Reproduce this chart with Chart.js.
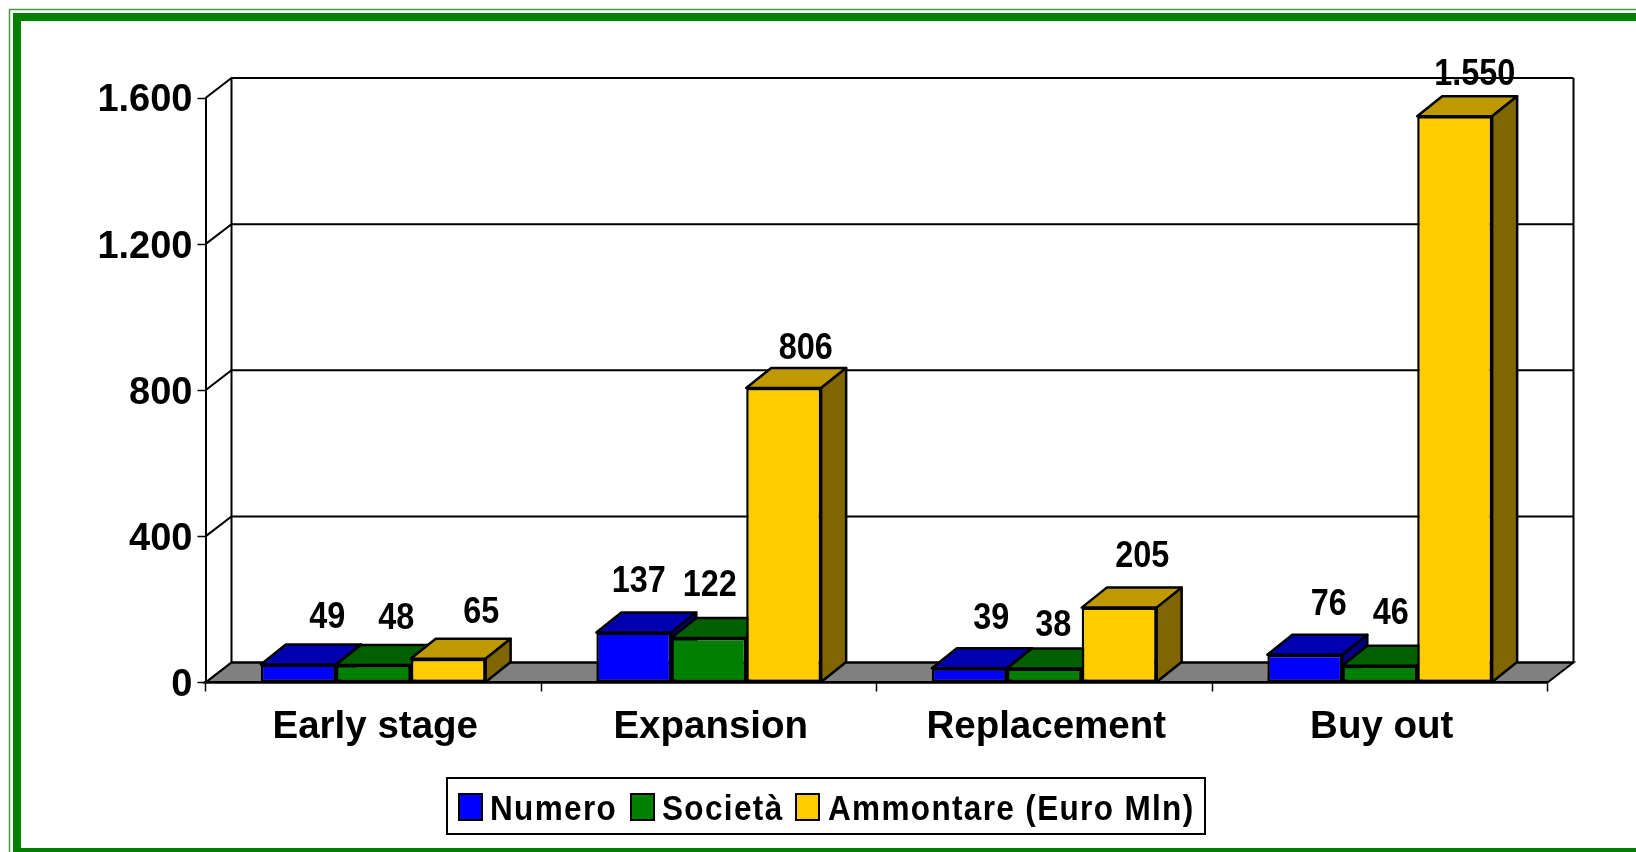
<!DOCTYPE html>
<html>
<head>
<meta charset="utf-8">
<style>
  html, body { margin: 0; padding: 0; background: #fff; overflow: hidden; }
  canvas { display: block; }
</style>
<script src="https://cdn.jsdelivr.net/npm/chart.js@4"></script>
</head>
<body>
<canvas id="myChart" width="1636" height="852"></canvas>
<script>
const categories = ['Early stage', 'Expansion', 'Replacement', 'Buy out'];
const numero = [49, 137, 39, 76];
const societa = [48, 122, 38, 46];
const ammontare = [65, 806, 205, 1550];
const seriesNames = ['Numero', 'Società', 'Ammontare (Euro Mln)'];

// front, top and side colour of each series
const frontColors = ['#0000ff', '#008000', '#ffcc00'];
const topColors = ['#0000b0', '#005f00', '#bf9900'];
const sideColors = ['#000080', '#004000', '#7f6600'];

// the value labels sit at hand placed spots in the original, offset from the bar top
const labelDx = [[29, 5, 22, 24], [23, 1, 9, 11], [33, 22, 23, 20]];
const labelDy = [[-47, -50, -49, -50], [-46, -52, -43, -52], [-46, -39, -51, -41]];

const depthX = 26;
const depthY = 20;
const barDepthX = 25;
const FONT = '"Liberation Sans", Arial, sans-serif';

function itNumber(v) {
    return String(v).replace(/\B(?=(\d{3})+$)/g, '.');
}

function poly(ctx, pts, fill) {
    ctx.beginPath();
    ctx.moveTo(pts[0][0], pts[0][1]);
    for (let i = 1; i < pts.length; i++) ctx.lineTo(pts[i][0], pts[i][1]);
    ctx.closePath();
    if (fill) {
        ctx.fillStyle = fill;
        ctx.fill();
    }
    ctx.stroke();
}

const frame = {
    id: 'frame',
    beforeDraw(chart) {
        const ctx = chart.ctx;
        ctx.save();
        ctx.strokeStyle = '#3f9f3f';
        ctx.lineWidth = 1.5;
        ctx.strokeRect(9.5, 9.5, 1700, 900);
        ctx.strokeStyle = '#008000';
        ctx.lineWidth = 8;
        ctx.strokeRect(17, 17, 1700, 835);
        ctx.restore();
    }
};

const walls = {
    id: 'walls',
    beforeDraw(chart) {
        const ctx = chart.ctx;
        const area = chart.chartArea;
        const y = chart.scales.y;
        ctx.save();
        ctx.strokeStyle = '#000';
        ctx.lineWidth = 2;
        poly(ctx, [
            [area.left, area.bottom],
            [area.left + depthX, area.bottom - depthY],
            [area.right + depthX, area.bottom - depthY],
            [area.right, area.bottom]
        ], '#808080');
        y.ticks.forEach(t => {
            const py = y.getPixelForValue(t.value);
            ctx.beginPath();
            ctx.moveTo(area.left, py);
            ctx.lineTo(area.left + depthX, py - depthY);
            ctx.lineTo(area.right + depthX, py - depthY);
            ctx.stroke();
        });
        ctx.beginPath();
        ctx.moveTo(area.left + depthX, area.top - depthY);
        ctx.lineTo(area.left + depthX, area.bottom - depthY);
        ctx.moveTo(area.right + depthX, area.top - depthY);
        ctx.lineTo(area.right + depthX, area.bottom - depthY);
        ctx.stroke();
        ctx.restore();
    }
};

const bars3d = {
    id: 'bars3d',
    beforeDatasetsDraw(chart) {
        const ctx = chart.ctx;
        ctx.save();
        ctx.strokeStyle = '#000';
        ctx.lineWidth = 2.5;
        ctx.lineJoin = 'round';
        categories.forEach((c, i) => {
            chart.data.datasets.forEach((ds, s) => {
                const bar = chart.getDatasetMeta(s).data[i];
                const l = bar.x - bar.width / 2;
                const r = bar.x + bar.width / 2;
                poly(ctx, [[l, bar.y], [l + barDepthX, bar.y - depthY], [r + barDepthX, bar.y - depthY], [r, bar.y]], topColors[s]);
                poly(ctx, [[r, bar.y], [r + barDepthX, bar.y - depthY], [r + barDepthX, bar.base - depthY], [r, bar.base]], sideColors[s]);
            });
        });
        ctx.restore();
    },
    afterDatasetsDraw(chart) {
        const ctx = chart.ctx;
        ctx.save();
        ctx.fillStyle = '#000';
        ctx.font = 'bold 36px ' + FONT;
        ctx.textAlign = 'center';
        ctx.textBaseline = 'middle';
        chart.data.datasets.forEach((ds, s) => {
            ds.data.forEach((v, i) => {
                const bar = chart.getDatasetMeta(s).data[i];
                ctx.save();
                ctx.translate(bar.x + labelDx[s][i], bar.y + labelDy[s][i]);
                ctx.scale(0.9, 1);
                ctx.fillText(itNumber(v), 0, 0);
                ctx.restore();
            });
        });
        ctx.restore();
    }
};

const legendBox = {
    id: 'legendBox',
    afterDraw(chart) {
        const ctx = chart.ctx;
        const swatchX = [459, 631, 796];
        const textX = [490, 662, 828];
        ctx.save();
        ctx.strokeStyle = '#000';
        ctx.lineWidth = 2;
        ctx.fillStyle = '#fff';
        ctx.fillRect(447, 778, 758, 56);
        ctx.strokeRect(447, 778, 758, 56);
        ctx.font = 'bold 35px ' + FONT;
        ctx.letterSpacing = '1.5px';
        ctx.textBaseline = 'alphabetic';
        seriesNames.forEach((name, s) => {
            ctx.fillStyle = frontColors[s];
            ctx.fillRect(swatchX[s], 794, 23, 26);
            ctx.strokeRect(swatchX[s], 794, 23, 26);
            ctx.save();
            ctx.fillStyle = '#000';
            ctx.translate(textX[s], 820);
            ctx.scale(0.9, 1);
            ctx.fillText(name, 0, 0);
            ctx.restore();
        });
        ctx.restore();
    }
};

const config = {
    type: 'bar',
    data: {
        labels: categories,
        datasets: [numero, societa, ammontare].map((values, s) => ({
            label: seriesNames[s],
            data: values,
            backgroundColor: frontColors[s],
            borderColor: '#000',
            borderWidth: 2.5,
            borderSkipped: false,
            categoryPercentage: 0.67,
            barPercentage: 1
        }))
    },
    options: {
        responsive: false,
        animation: false,
        layout: { padding: { top: 98, right: 88.5, left: 0, bottom: 0 } },
        plugins: {
            legend: { display: false },
            tooltip: { enabled: false }
        },
        scales: {
            x: {
                afterFit: scale => { scale.height = 169.5; },
                border: { color: '#000', width: 2.5 },
                grid: { drawOnChartArea: false, color: '#000', tickLength: 9, tickWidth: 1.5 },
                ticks: {
                    color: '#000',
                    padding: 13,
                    labelOffset: 2,
                    maxRotation: 0,
                    font: { family: FONT, size: 38.5, weight: 'bold' }
                }
            },
            y: {
                min: 0,
                max: 1600,
                afterFit: scale => { scale.width = 205.5; },
                border: { color: '#000', width: 2 },
                grid: { drawOnChartArea: false, color: '#000', tickLength: 8, tickWidth: 1.5 },
                ticks: {
                    stepSize: 400,
                    color: '#000',
                    padding: 5,
                    labelOffset: 3,
                    callback: v => itNumber(v),
                    font: { family: FONT, size: 38, weight: 'bold' }
                }
            }
        }
    },
    plugins: [frame, walls, bars3d, legendBox]
};

const myChart = new Chart(document.getElementById('myChart'), config);
</script>
</body>
</html>
